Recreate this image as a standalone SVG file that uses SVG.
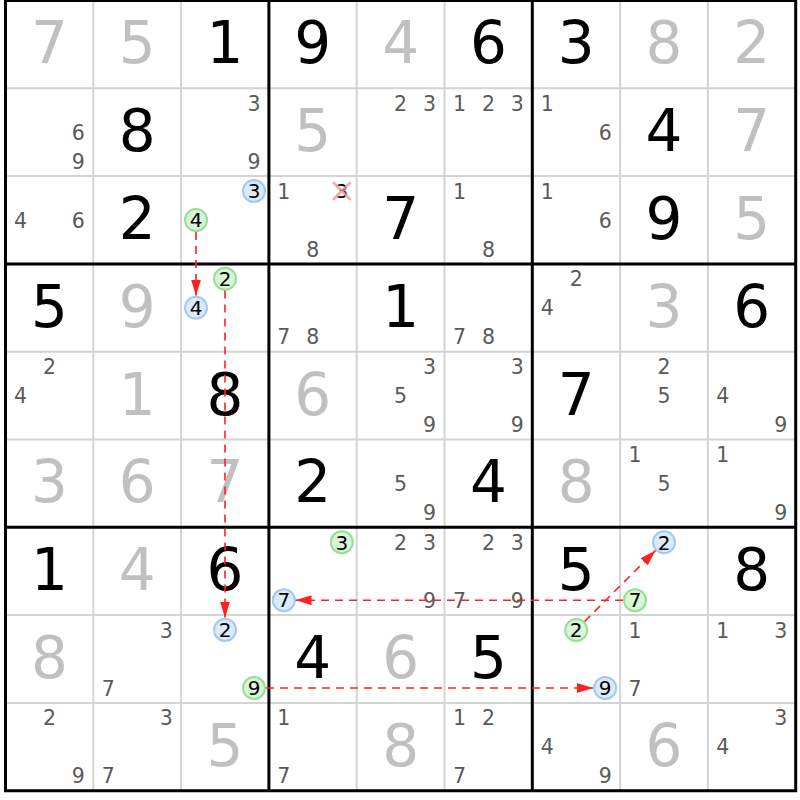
<svg xmlns="http://www.w3.org/2000/svg" width="800" height="800" viewBox="0 0 800 800">
<defs>
<style>
text{font-family:"DejaVu Sans","Liberation Sans",sans-serif;text-anchor:middle}
.g{font-size:58px;fill:#000}
.f{font-size:58px;fill:#c0c0c0}
.c{font-size:20.5px;fill:#5a5a5a}
.k{font-size:20px;fill:#000}
.thin{stroke:#d4d4d4;stroke-width:2}
.thick{stroke:#000;stroke-width:3}
.blue{fill:#dbeafb;stroke:#a3c9f1;stroke-width:2}
.green{fill:#d7f5d7;stroke:#97de97;stroke-width:2}
.link{stroke:#ff2020;stroke-width:1.6;stroke-dasharray:8 6;fill:none;marker-end:url(#ah)}
.x{stroke:#f29a9a;stroke-width:3;stroke-linecap:round}
</style>
<marker id="ah" markerUnits="userSpaceOnUse" markerWidth="16" markerHeight="10" refX="16" refY="5" orient="auto"><path d="M0,0 L16,5 L0,10 z" fill="#ff2020"/></marker>
</defs>
<rect width="800" height="800" fill="#fff"/>
<g id="grid">
<path class="thin" d="M93.3,0.5V790.7M181.1,0.5V790.7M356.7,0.5V790.7M444.5,0.5V790.7M620.1,0.5V790.7M707.9,0.5V790.7M5.5,88.3H795.7M5.5,176.1H795.7M5.5,351.7H795.7M5.5,439.5H795.7M5.5,615.1H795.7M5.5,702.9H795.7"/>
<path class="thick" d="M5.5,0.5V790.7M268.9,0.5V790.7M532.3,0.5V790.7M795.7,0.5V790.7M4,0.5H797.2M4,263.9H797.2M4,527.3H797.2M4,790.7H797.2"/>
</g>
<g id="cells">
<!-- row 1 -->
<g id="r1c1" transform="translate(49.4,44.4)"><text class="f" y="19">7</text></g>
<g id="r1c2" transform="translate(137.2,44.4)"><text class="f" y="19">5</text></g>
<g id="r1c3" transform="translate(225,44.4)"><text class="g" y="19">1</text></g>
<g id="r1c4" transform="translate(312.8,44.4)"><text class="g" y="19">9</text></g>
<g id="r1c5" transform="translate(400.6,44.4)"><text class="f" y="19">4</text></g>
<g id="r1c6" transform="translate(488.4,44.4)"><text class="g" y="19">6</text></g>
<g id="r1c7" transform="translate(576.2,44.4)"><text class="g" y="19">3</text></g>
<g id="r1c8" transform="translate(664,44.4)"><text class="f" y="19">8</text></g>
<g id="r1c9" transform="translate(751.8,44.4)"><text class="f" y="19">2</text></g>
<!-- row 2 -->
<g id="r2c1" transform="translate(49.4,132.2)"><text class="c" x="29" y="7.5">6</text><text class="c" x="29" y="36.5">9</text></g>
<g id="r2c2" transform="translate(137.2,132.2)"><text class="g" y="19">8</text></g>
<g id="r2c3" transform="translate(225,132.2)"><text class="c" x="29" y="-21.5">3</text><text class="c" x="29" y="36.5">9</text></g>
<g id="r2c4" transform="translate(312.8,132.2)"><text class="f" y="19">5</text></g>
<g id="r2c5" transform="translate(400.6,132.2)"><text class="c" x="0" y="-21.5">2</text><text class="c" x="29" y="-21.5">3</text></g>
<g id="r2c6" transform="translate(488.4,132.2)"><text class="c" x="-29" y="-21.5">1</text><text class="c" x="0" y="-21.5">2</text><text class="c" x="29" y="-21.5">3</text></g>
<g id="r2c7" transform="translate(576.2,132.2)"><text class="c" x="-29" y="-21.5">1</text><text class="c" x="29" y="7.5">6</text></g>
<g id="r2c8" transform="translate(664,132.2)"><text class="g" y="19">4</text></g>
<g id="r2c9" transform="translate(751.8,132.2)"><text class="f" y="19">7</text></g>
<!-- row 3 -->
<g id="r3c1" transform="translate(49.4,220)"><text class="c" x="-29" y="7.5">4</text><text class="c" x="29" y="7.5">6</text></g>
<g id="r3c2" transform="translate(137.2,220)"><text class="g" y="19">2</text></g>
<g id="r3c3" transform="translate(225,220)"><circle class="blue" cx="29" cy="-29" r="11"/><text class="k" x="29" y="-21.7">3</text><circle class="green" cx="-29" cy="0" r="11"/><text class="k" x="-29" y="7.3">4</text></g>
<g id="r3c4" transform="translate(312.8,220)"><text class="c" x="-29" y="-21.5">1</text><text class="k" x="29" y="-21.7">3</text><path class="x" d="M21,-37L37,-21M37,-37L21,-21" opacity="0.8"/><text class="c" x="0" y="36.5">8</text></g>
<g id="r3c5" transform="translate(400.6,220)"><text class="g" y="19">7</text></g>
<g id="r3c6" transform="translate(488.4,220)"><text class="c" x="-29" y="-21.5">1</text><text class="c" x="0" y="36.5">8</text></g>
<g id="r3c7" transform="translate(576.2,220)"><text class="c" x="-29" y="-21.5">1</text><text class="c" x="29" y="7.5">6</text></g>
<g id="r3c8" transform="translate(664,220)"><text class="g" y="19">9</text></g>
<g id="r3c9" transform="translate(751.8,220)"><text class="f" y="19">5</text></g>
<!-- row 4 -->
<g id="r4c1" transform="translate(49.4,307.8)"><text class="g" y="19">5</text></g>
<g id="r4c2" transform="translate(137.2,307.8)"><text class="f" y="19">9</text></g>
<g id="r4c3" transform="translate(225,307.8)"><circle class="green" cx="0" cy="-29" r="11"/><text class="k" x="0" y="-21.7">2</text><circle class="blue" cx="-29" cy="0" r="11"/><text class="k" x="-29" y="7.3">4</text></g>
<g id="r4c4" transform="translate(312.8,307.8)"><text class="c" x="-29" y="36.5">7</text><text class="c" x="0" y="36.5">8</text></g>
<g id="r4c5" transform="translate(400.6,307.8)"><text class="g" y="19">1</text></g>
<g id="r4c6" transform="translate(488.4,307.8)"><text class="c" x="-29" y="36.5">7</text><text class="c" x="0" y="36.5">8</text></g>
<g id="r4c7" transform="translate(576.2,307.8)"><text class="c" x="0" y="-21.5">2</text><text class="c" x="-29" y="7.5">4</text></g>
<g id="r4c8" transform="translate(664,307.8)"><text class="f" y="19">3</text></g>
<g id="r4c9" transform="translate(751.8,307.8)"><text class="g" y="19">6</text></g>
<!-- row 5 -->
<g id="r5c1" transform="translate(49.4,395.6)"><text class="c" x="0" y="-21.5">2</text><text class="c" x="-29" y="7.5">4</text></g>
<g id="r5c2" transform="translate(137.2,395.6)"><text class="f" y="19">1</text></g>
<g id="r5c3" transform="translate(225,395.6)"><text class="g" y="19">8</text></g>
<g id="r5c4" transform="translate(312.8,395.6)"><text class="f" y="19">6</text></g>
<g id="r5c5" transform="translate(400.6,395.6)"><text class="c" x="29" y="-21.5">3</text><text class="c" x="0" y="7.5">5</text><text class="c" x="29" y="36.5">9</text></g>
<g id="r5c6" transform="translate(488.4,395.6)"><text class="c" x="29" y="-21.5">3</text><text class="c" x="29" y="36.5">9</text></g>
<g id="r5c7" transform="translate(576.2,395.6)"><text class="g" y="19">7</text></g>
<g id="r5c8" transform="translate(664,395.6)"><text class="c" x="0" y="-21.5">2</text><text class="c" x="0" y="7.5">5</text></g>
<g id="r5c9" transform="translate(751.8,395.6)"><text class="c" x="-29" y="7.5">4</text><text class="c" x="29" y="36.5">9</text></g>
<!-- row 6 -->
<g id="r6c1" transform="translate(49.4,483.4)"><text class="f" y="19">3</text></g>
<g id="r6c2" transform="translate(137.2,483.4)"><text class="f" y="19">6</text></g>
<g id="r6c3" transform="translate(225,483.4)"><text class="f" y="19">7</text></g>
<g id="r6c4" transform="translate(312.8,483.4)"><text class="g" y="19">2</text></g>
<g id="r6c5" transform="translate(400.6,483.4)"><text class="c" x="0" y="7.5">5</text><text class="c" x="29" y="36.5">9</text></g>
<g id="r6c6" transform="translate(488.4,483.4)"><text class="g" y="19">4</text></g>
<g id="r6c7" transform="translate(576.2,483.4)"><text class="f" y="19">8</text></g>
<g id="r6c8" transform="translate(664,483.4)"><text class="c" x="-29" y="-21.5">1</text><text class="c" x="0" y="7.5">5</text></g>
<g id="r6c9" transform="translate(751.8,483.4)"><text class="c" x="-29" y="-21.5">1</text><text class="c" x="29" y="36.5">9</text></g>
<!-- row 7 -->
<g id="r7c1" transform="translate(49.4,571.2)"><text class="g" y="19">1</text></g>
<g id="r7c2" transform="translate(137.2,571.2)"><text class="f" y="19">4</text></g>
<g id="r7c3" transform="translate(225,571.2)"><text class="g" y="19">6</text></g>
<g id="r7c4" transform="translate(312.8,571.2)"><circle class="green" cx="29" cy="-29" r="11"/><text class="k" x="29" y="-21.7">3</text><circle class="blue" cx="-29" cy="29" r="11"/><text class="k" x="-29" y="36.3">7</text></g>
<g id="r7c5" transform="translate(400.6,571.2)"><text class="c" x="0" y="-21.5">2</text><text class="c" x="29" y="-21.5">3</text><text class="c" x="29" y="36.5">9</text></g>
<g id="r7c6" transform="translate(488.4,571.2)"><text class="c" x="0" y="-21.5">2</text><text class="c" x="29" y="-21.5">3</text><text class="c" x="-29" y="36.5">7</text><text class="c" x="29" y="36.5">9</text></g>
<g id="r7c7" transform="translate(576.2,571.2)"><text class="g" y="19">5</text></g>
<g id="r7c8" transform="translate(664,571.2)"><circle class="blue" cx="0" cy="-29" r="11"/><text class="k" x="0" y="-21.7">2</text><circle class="green" cx="-29" cy="29" r="11"/><text class="k" x="-29" y="36.3">7</text></g>
<g id="r7c9" transform="translate(751.8,571.2)"><text class="g" y="19">8</text></g>
<!-- row 8 -->
<g id="r8c1" transform="translate(49.4,659)"><text class="f" y="19">8</text></g>
<g id="r8c2" transform="translate(137.2,659)"><text class="c" x="29" y="-21.5">3</text><text class="c" x="-29" y="36.5">7</text></g>
<g id="r8c3" transform="translate(225,659)"><circle class="blue" cx="0" cy="-29" r="11"/><text class="k" x="0" y="-21.7">2</text><circle class="green" cx="29" cy="29" r="11"/><text class="k" x="29" y="36.3">9</text></g>
<g id="r8c4" transform="translate(312.8,659)"><text class="g" y="19">4</text></g>
<g id="r8c5" transform="translate(400.6,659)"><text class="f" y="19">6</text></g>
<g id="r8c6" transform="translate(488.4,659)"><text class="g" y="19">5</text></g>
<g id="r8c7" transform="translate(576.2,659)"><circle class="green" cx="0" cy="-29" r="11"/><text class="k" x="0" y="-21.7">2</text><circle class="blue" cx="29" cy="29" r="11"/><text class="k" x="29" y="36.3">9</text></g>
<g id="r8c8" transform="translate(664,659)"><text class="c" x="-29" y="-21.5">1</text><text class="c" x="-29" y="36.5">7</text></g>
<g id="r8c9" transform="translate(751.8,659)"><text class="c" x="-29" y="-21.5">1</text><text class="c" x="29" y="-21.5">3</text></g>
<!-- row 9 -->
<g id="r9c1" transform="translate(49.4,746.8)"><text class="c" x="0" y="-21.5">2</text><text class="c" x="29" y="36.5">9</text></g>
<g id="r9c2" transform="translate(137.2,746.8)"><text class="c" x="29" y="-21.5">3</text><text class="c" x="-29" y="36.5">7</text></g>
<g id="r9c3" transform="translate(225,746.8)"><text class="f" y="19">5</text></g>
<g id="r9c4" transform="translate(312.8,746.8)"><text class="c" x="-29" y="-21.5">1</text><text class="c" x="-29" y="36.5">7</text></g>
<g id="r9c5" transform="translate(400.6,746.8)"><text class="f" y="19">8</text></g>
<g id="r9c6" transform="translate(488.4,746.8)"><text class="c" x="-29" y="-21.5">1</text><text class="c" x="0" y="-21.5">2</text><text class="c" x="-29" y="36.5">7</text></g>
<g id="r9c7" transform="translate(576.2,746.8)"><text class="c" x="-29" y="7.5">4</text><text class="c" x="29" y="36.5">9</text></g>
<g id="r9c8" transform="translate(664,746.8)"><text class="f" y="19">6</text></g>
<g id="r9c9" transform="translate(751.8,746.8)"><text class="c" x="29" y="-21.5">3</text><text class="c" x="-29" y="7.5">4</text></g>
</g>
<g id="connectors">
<path class="link" d="M196,232V295.5"/>
<path class="link" d="M225,290.5V617.5"/>
<path class="link" d="M623,600.2H295.5"/>
<path class="link" d="M266,688H593"/>
<path class="link" d="M584.5,621.5L655.5,550.5"/>
</g>
</svg>
